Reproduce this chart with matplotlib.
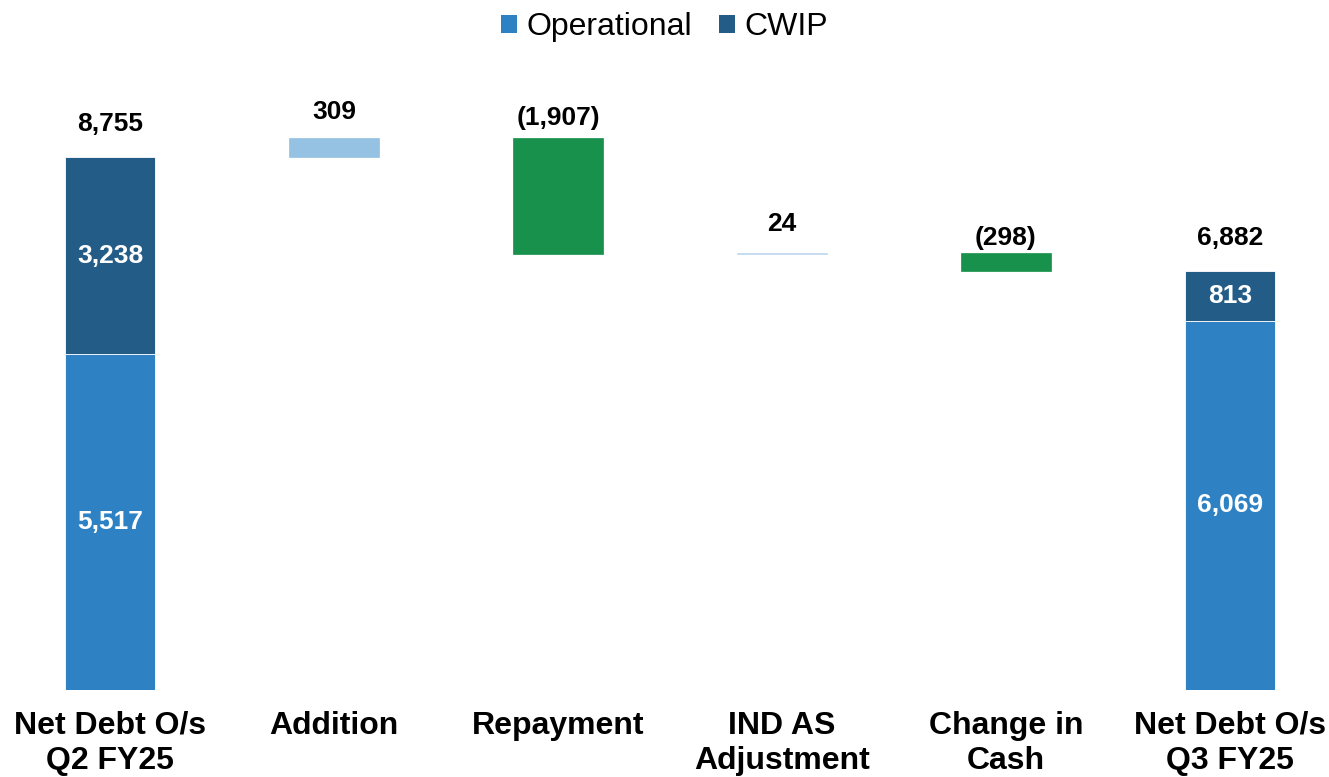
import matplotlib
matplotlib.use("Agg")
import matplotlib.pyplot as plt
from matplotlib.patches import Patch

categories = ["Net Debt O/s\nQ2 FY25", "Addition", "Repayment", "IND AS\nAdjustment", "Change in\nCash", "Net Debt O/s\nQ3 FY25"]
start_operational = 5517
start_cwip = 3238
changes = [309, -1907, 24, -298]
change_colors = ["#95C1E3", "#17914B", "#BDD7EE", "#17914B"]
end_operational = 6069
end_cwip = 813

# vertical offsets (px) of the value labels above each bar top
label_offsets_px = [33, 26, 20, 29, 15, 33]

C_OP = "#2E82C4"
C_CWIP = "#245C88"

plt.rcParams['font.family'] = ['Liberation Sans', 'DejaVu Sans']

fig = plt.figure(figsize=(13.29, 7.77), dpi=100)
scale = 533 / 8755  # px per unit
bottom_px = 87
top_px = 60
ax_h = (777 - bottom_px - top_px) / 777
ax = fig.add_axes([0, bottom_px / 777, 1, ax_h])
ymax = (690 - top_px) / scale
ax.set_ylim(0, ymax)
ax.set_xlim(-110 / 224, (1329 - 110) / 224)
ax.axis('off')

w = 0.40
VFS = 19

def fmt(v):
    s = f"{abs(v):,}"
    return f"({s})" if v < 0 else s

def top_label(x, y, text, off_px):
    ax.annotate(text, (x, y), xytext=(0, off_px * 72 / 100), textcoords='offset points',
                ha='center', va='center', fontsize=VFS, fontweight='bold', color='black')

# first bar
ax.bar(0, start_operational, w, color=C_OP, edgecolor='white', linewidth=0.6)
ax.bar(0, start_cwip, w, bottom=start_operational, color=C_CWIP, edgecolor='white', linewidth=0.6)
ax.text(0, start_operational / 2, fmt(start_operational), ha='center', va='center', fontsize=VFS, fontweight='bold', color='white')
ax.text(0, start_operational + start_cwip / 2, fmt(start_cwip), ha='center', va='center', fontsize=VFS, fontweight='bold', color='white')
total = start_operational + start_cwip
top_label(0, total, fmt(total), label_offsets_px[0])

running = total
for i, (c, col) in enumerate(zip(changes, change_colors), start=1):
    lo = min(running, running + c)
    hi = max(running, running + c)
    ax.bar(i, hi - lo, w, bottom=lo, color=col, edgecolor=col, linewidth=0.5)
    top_label(i, hi, fmt(c), label_offsets_px[i])
    running += c

n = len(categories) - 1
ax.bar(n, end_operational, w, color=C_OP, edgecolor='white', linewidth=0.6)
ax.bar(n, end_cwip, w, bottom=end_operational, color=C_CWIP, edgecolor='white', linewidth=0.6)
ax.text(n, end_operational / 2, fmt(end_operational), ha='center', va='center', fontsize=VFS, fontweight='bold', color='white')
ax.text(n, end_operational + end_cwip / 2, fmt(end_cwip), ha='center', va='center', fontsize=VFS, fontweight='bold', color='white')
end_total = end_operational + end_cwip
top_label(n, end_total, fmt(end_total), label_offsets_px[n])

for i, cat in enumerate(categories):
    ax.annotate(cat, (i, 0), xytext=(0, -21 * 72 / 100), textcoords='offset points',
                ha='center', va='top', fontsize=23, fontweight='bold', color='black',
                linespacing=1.2, annotation_clip=False)

handles = [Patch(facecolor=C_OP, label='Operational'), Patch(facecolor=C_CWIP, label='CWIP')]
fig.legend(handles=handles, loc='center', bbox_to_anchor=(0.5, 1 - 27 / 777), ncol=2, frameon=False,
           fontsize=23, handlelength=0.5, handleheight=0.5, handletextpad=0.3, columnspacing=0.85)

fig.savefig('out.png', dpi=100)
